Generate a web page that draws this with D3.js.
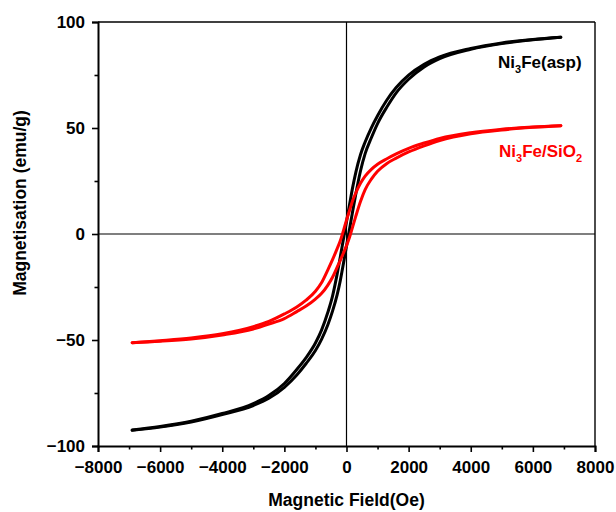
<!DOCTYPE html>
<html>
<head>
<meta charset="utf-8">
<script src="https://cdn.jsdelivr.net/npm/d3@7/dist/d3.min.js"></script>
<style>
  html, body { margin: 0; padding: 0; background: #fff; }
  svg { display: block; font-family: "Liberation Sans", Arial, sans-serif; }
</style>
</head>
<body>
<svg id="chart" width="616" height="512"></svg>
<script>
// Applied field (Oe) at which each branch is sampled
const fieldOe = [-6900, -6000, -5000, -4000, -3000, -2500, -2000, -1600, -1300, -1000, -800, -600, -450, -300, -200, -100,
                 0, 100, 200, 300, 450, 600, 800, 1000, 1300, 1600, 2000, 2500, 3000, 4000, 5000, 6000, 6900];

// Ni3Fe(asp): descending branch (from +H) and ascending branch (from -H), emu/g
const nifeDown = [-92.5, -90.8, -88.3, -84.7, -80.0, -76.2, -70.5, -63.9, -58.3, -51.4, -45.2, -36.9, -29.3, -18.8, -10.8, -2.5,
                  5.8, 14.0, 22.1, 29.1, 37.4, 43.4, 50.1, 55.8, 63.2, 69.1, 74.9, 80.0, 83.5, 87.5, 90.1, 91.8, 92.8];
const nifeUp   = [-92.6, -91.1, -88.7, -85.2, -80.9, -77.5, -72.3, -66.5, -61.1, -55.0, -49.6, -42.8, -36.4, -28.6, -22.0, -14.0,
                  -5.8, 2.5, 10.8, 18.9, 29.7, 37.9, 45.4, 52.1, 59.9, 66.6, 73.0, 78.8, 82.7, 87.1, 89.8, 91.6, 92.8];

// Ni3Fe/SiO2: descending and ascending branches, emu/g
const sioDown = [-51.3, -50.3, -49.0, -47.0, -43.7, -41.2, -37.7, -34.4, -31.2, -27.0, -22.9, -16.9, -12.1, -6.9, -3.2, 1.5,
                 6.5, 11.2, 15.8, 19.4, 23.9, 27.3, 30.5, 32.9, 35.5, 37.8, 40.4, 42.9, 45.1, 47.8, 49.4, 50.5, 51.1];
const sioUp   = [-51.3, -50.6, -49.5, -47.6, -44.8, -42.5, -39.9, -36.6, -34.0, -30.7, -28.0, -24.1, -20.4, -15.6, -12.4, -9.0,
                 -5.5, -1.4, 3.5, 8.4, 15.3, 20.9, 25.9, 29.6, 33.3, 35.8, 38.7, 41.6, 44.1, 47.3, 49.1, 50.3, 51.1];

// Axis ticks
const xMajor = [-8000, -6000, -4000, -2000, 0, 2000, 4000, 6000, 8000];
const xMinor = [-7000, -5000, -3000, -1000, 1000, 3000, 5000, 7000];
const yMajor = [-100, -50, 0, 50, 100];
const yMinor = [-75, -25, 25, 75];

const samples = [
  { name: "Ni3Fe(asp)", color: "#000000", branches: [nifeDown, nifeUp] },
  { name: "Ni3Fe/SiO2", color: "#ff0000", branches: [sioDown, sioUp] }
];

const svg = d3.select("#chart");
const W = 616, H = 512;
const m = { left: 98, right: 21, top: 22, bottom: 66 };
const iw = W - m.left - m.right, ih = H - m.top - m.bottom;

const x = d3.scaleLinear().domain([-8000, 8000]).range([0, iw]);
const y = d3.scaleLinear().domain([-100, 100]).range([ih, 0]);

const g = svg.append("g").attr("transform", `translate(${m.left},${m.top})`);

// Zero reference lines
g.append("line").attr("x1", x(0)).attr("x2", x(0)).attr("y1", 0).attr("y2", ih)
  .attr("stroke", "#000").attr("stroke-width", 1.2);
g.append("line").attr("x1", 0).attr("x2", iw).attr("y1", y(0)).attr("y2", y(0))
  .attr("stroke", "#000").attr("stroke-width", 1.2);

// Hysteresis loops
const line = d3.line()
  .x((d, i) => x(fieldOe[i]))
  .y(d => y(d))
  .curve(d3.curveMonotoneX);

samples.forEach(s => {
  s.branches.forEach(b => {
    g.append("path")
      .datum(b)
      .attr("d", line)
      .attr("fill", "none")
      .attr("stroke", s.color)
      .attr("stroke-width", 3)
      .attr("stroke-linecap", "round")
      .attr("stroke-linejoin", "round");
  });
});

// Frame: thin top/right, heavier left/bottom
g.append("line").attr("x1", 0).attr("x2", iw).attr("y1", 0).attr("y2", 0)
  .attr("stroke", "#000").attr("stroke-width", 1.4);
g.append("line").attr("x1", iw).attr("x2", iw).attr("y1", 0).attr("y2", ih)
  .attr("stroke", "#000").attr("stroke-width", 1.4);

const tickFont = 17;

// Bottom axis
const xAxis = g.append("g").attr("transform", `translate(0,${ih})`)
  .call(d3.axisBottom(x).tickValues(xMajor).tickSize(6).tickPadding(9).tickFormat(d3.format("d")));
const xMinorAxis = g.append("g").attr("transform", `translate(0,${ih})`)
  .call(d3.axisBottom(x).tickValues(xMinor).tickSize(3.5).tickFormat(""));

// Left axis
const yAxis = g.append("g")
  .call(d3.axisLeft(y).tickValues(yMajor).tickSize(6).tickPadding(7).tickFormat(d3.format("d")));
const yMinorAxis = g.append("g")
  .call(d3.axisLeft(y).tickValues(yMinor).tickSize(3.5).tickFormat(""));

[xAxis, xMinorAxis, yAxis, yMinorAxis].forEach(a => {
  a.select(".domain").attr("stroke", "#000").attr("stroke-width", 2);
  a.selectAll(".tick line").attr("stroke", "#000").attr("stroke-width", 1.6);
  a.selectAll(".tick text")
    .attr("fill", "#000")
    .style("font-family", "'Liberation Sans', Arial, sans-serif")
    .style("font-size", tickFont + "px")
    .style("font-weight", "bold");
});
xMinorAxis.select(".domain").remove();
yMinorAxis.select(".domain").remove();

// Axis titles
svg.append("text")
  .attr("x", m.left + x(0)).attr("y", 506)
  .attr("text-anchor", "middle")
  .style("font-size", "17.5px").style("font-weight", "bold")
  .text("Magnetic Field(Oe)");

svg.append("text")
  .attr("transform", "translate(26,203) rotate(-90)")
  .attr("text-anchor", "middle")
  .style("font-size", "17.5px").style("font-weight", "bold")
  .text("Magnetisation (emu/g)");

// Series labels with chemical subscripts
function chemLabel(px, py, color, parts) {
  const t = svg.append("text")
    .attr("x", px).attr("y", py)
    .attr("fill", color)
    .style("font-size", "17px").style("font-weight", "bold");
  let shift = 0;
  parts.forEach(p => {
    const target = p.sub ? 5 : 0;
    const ts = t.append("tspan").attr("dy", target - shift).text(p.t);
    if (p.sub) ts.style("font-size", "11px");
    shift = target;
  });
}
chemLabel(498, 68, samples[0].color, [{ t: "Ni" }, { t: "3", sub: true }, { t: "Fe(asp)" }]);
chemLabel(499, 157, samples[1].color, [{ t: "Ni" }, { t: "3", sub: true }, { t: "Fe/SiO" }, { t: "2", sub: true }]);
</script>
</body>
</html>
